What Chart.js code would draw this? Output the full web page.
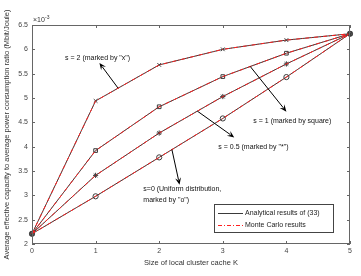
<!DOCTYPE html>
<html>
<head>
<meta charset="utf-8">
<script src="https://cdn.jsdelivr.net/npm/chart.js@4.4.1/dist/chart.umd.min.js"></script>
<style>
  html, body { margin: 0; padding: 0; background: #fff; }
  #wrap { width: 361px; height: 276px; }
</style>
</head>
<body>
<div id="wrap"><canvas id="cacheChart" width="361" height="276"></canvas></div>
<script>
// Данные графика (×10^-3 Mbit/Joule)
const cacheSize = [0, 1, 2, 3, 4, 5];
const xTicks = [0, 1, 2, 3, 4, 5];
const yTicks = [2, 2.5, 3, 3.5, 4, 4.5, 5, 5.5, 6, 6.5];

const s2 = [2.21, 4.94, 5.68, 6.00, 6.19, 6.32];
const s1 = [2.21, 3.92, 4.82, 5.44, 5.92, 6.32];
const s05 = [2.21, 3.41, 4.28, 5.03, 5.70, 6.32];
const s0 = [2.21, 2.98, 3.78, 4.58, 5.43, 6.32];

const FONT = '"Liberation Sans", Arial, sans-serif';
const GRAY = '#3a3a3a';
const RED = '#ff2020';

// Подписи со стрелками (в координатах данных)
const notes = [
    { lines: ['s = 2 (marked by "x")'], tx: 0.52, ty: 5.83, from: [1.355, 5.20], to: [1.06, 5.72] },
    { lines: ['s = 1 (marked by square)'], tx: 3.48, ty: 4.53, from: [3.43, 5.65], to: [4.0, 4.72] },
    { lines: ['s = 0.5 (marked by "*")'], tx: 2.93, ty: 4.00, from: [2.60, 4.73], to: [3.18, 4.19] },
    { lines: ['s=0 (Uniform distribution,', 'marked by "o")'], tx: 1.75, ty: 3.12, from: [2.20, 3.94], to: [2.32, 3.22] }
];

function toPoints(arr) {
    return cacheSize.map((k, i) => ({ x: k, y: arr[i] }));
}

function analytical(arr, style) {
    return {
        data: toPoints(arr),
        borderColor: GRAY,
        borderWidth: 1,
        pointStyle: style,
        pointRadius: 2.6,
        pointBorderColor: GRAY,
        pointBackgroundColor: 'rgba(0,0,0,0)',
        pointBorderWidth: 1,
        clip: false,
        order: 2
    };
}

function monteCarlo(arr) {
    return {
        data: toPoints(arr),
        borderColor: RED,
        borderWidth: 1,
        borderDash: [4, 2, 1, 2],
        pointRadius: 0,
        clip: false,
        order: 1
    };
}

function drawArrow(c, x1, y1, x2, y2) {
    const ang = Math.atan2(y2 - y1, x2 - x1);
    const len = 7, w = 3;
    c.strokeStyle = '#000';
    c.fillStyle = '#000';
    c.lineWidth = 1;
    c.beginPath();
    c.moveTo(x1, y1);
    c.lineTo(x2 - Math.cos(ang) * len * 0.7, y2 - Math.sin(ang) * len * 0.7);
    c.stroke();
    c.beginPath();
    c.moveTo(x2, y2);
    c.lineTo(x2 - Math.cos(ang) * len + Math.sin(ang) * w, y2 - Math.sin(ang) * len - Math.cos(ang) * w);
    c.lineTo(x2 - Math.cos(ang) * len * 0.6, y2 - Math.sin(ang) * len * 0.6);
    c.lineTo(x2 - Math.cos(ang) * len - Math.sin(ang) * w, y2 - Math.sin(ang) * len + Math.cos(ang) * w);
    c.closePath();
    c.fill();
}

const matlabLook = {
    id: 'matlabLook',
    afterDraw(chart) {
        const c = chart.ctx;
        const a = chart.chartArea;
        const xs = chart.scales.x, ys = chart.scales.y;
        c.save();

        // рамка и внутренние засечки
        c.strokeStyle = '#666';
        c.lineWidth = 1;
        c.strokeRect(a.left + 0.5, a.top + 0.5, a.right - a.left - 1, a.bottom - a.top - 1);
        c.beginPath();
        xTicks.forEach(v => {
            const px = Math.round(xs.getPixelForValue(v)) + 0.5;
            c.moveTo(px, a.bottom); c.lineTo(px, a.bottom - 3);
            c.moveTo(px, a.top); c.lineTo(px, a.top + 3);
        });
        yTicks.forEach(v => {
            const py = Math.round(ys.getPixelForValue(v)) + 0.5;
            c.moveTo(a.left, py); c.lineTo(a.left + 3, py);
            c.moveTo(a.right, py); c.lineTo(a.right - 3, py);
        });
        c.stroke();

        // множитель ×10^-3
        c.fillStyle = '#333';
        c.font = '7px ' + FONT;
        c.textBaseline = 'alphabetic';
        c.textAlign = 'left';
        c.fillText('\u00d710', a.left + 1, a.top - 3);
        c.font = '5px ' + FONT;
        c.fillText('-3', a.left + 13, a.top - 6);

        // подписи и стрелки
        c.font = '7px ' + FONT;
        c.textBaseline = 'middle';
        notes.forEach(n => {
            c.fillStyle = '#111';
            const tx = xs.getPixelForValue(n.tx);
            const ty = ys.getPixelForValue(n.ty);
            n.lines.forEach((t, i) => c.fillText(t, tx, ty + i * 11));
            drawArrow(c,
                xs.getPixelForValue(n.from[0]), ys.getPixelForValue(n.from[1]),
                xs.getPixelForValue(n.to[0]), ys.getPixelForValue(n.to[1]));
        });

        // легенда
        const lx = a.right - 136, ly = a.bottom - 40, lw = 119, lh = 28;
        c.fillStyle = '#fff';
        c.fillRect(lx, ly, lw, lh);
        c.strokeStyle = '#444';
        c.strokeRect(lx + 0.5, ly + 0.5, lw, lh);
        c.lineWidth = 1;
        c.strokeStyle = GRAY;
        c.beginPath();
        c.moveTo(lx + 4, ly + 9.5); c.lineTo(lx + 29, ly + 9.5);
        c.stroke();
        c.strokeStyle = RED;
        c.setLineDash([4, 2, 1, 2]);
        c.beginPath();
        c.moveTo(lx + 4, ly + 21.5); c.lineTo(lx + 29, ly + 21.5);
        c.stroke();
        c.setLineDash([]);
        c.fillStyle = '#222';
        c.fillText('Analytical results of (33)', lx + 31, ly + 9.5);
        c.fillText('Monte Carlo results', lx + 31, ly + 21.5);
        c.restore();
    }
};

const ctx = document.getElementById('cacheChart').getContext('2d');
const cacheChart = new Chart(ctx, {
    type: 'line',
    data: {
        datasets: [
            analytical(s2, 'crossRot'),
            analytical(s1, 'rect'),
            analytical(s05, 'star'),
            analytical(s0, 'circle'),
            monteCarlo(s2),
            monteCarlo(s1),
            monteCarlo(s05),
            monteCarlo(s0)
        ]
    },
    options: {
        responsive: false,
        animation: false,
        layout: { padding: { left: 2, right: 11, top: 25, bottom: 9 } },
        plugins: { legend: { display: false }, tooltip: { enabled: false } },
        scales: {
            x: {
                type: 'linear',
                min: 0,
                max: 5,
                afterBuildTicks: s => { s.ticks = xTicks.map(v => ({ value: v })); },
                afterFit: s => { s.height = 23; },
                grid: { display: false, drawTicks: false },
                border: { display: false },
                ticks: { color: '#444', font: { family: FONT, size: 7 }, padding: 3, maxRotation: 0, callback: v => String(v) },
                title: {
                    display: true,
                    text: 'Size of local cluster cache K',
                    color: '#333',
                    font: { family: FONT, size: 7.5 },
                    padding: { top: 2, bottom: 0 }
                }
            },
            y: {
                min: 2,
                max: 6.5,
                afterBuildTicks: s => { s.ticks = yTicks.map(v => ({ value: v })); },
                afterFit: s => { s.width = 30; },
                grid: { display: false, drawTicks: false },
                border: { display: false },
                ticks: { color: '#444', font: { family: FONT, size: 7 }, padding: 4, callback: v => String(v) },
                title: {
                    display: true,
                    text: 'Average effective capacity to average power consumption ratio (Mbit/Joule)',
                    color: '#333',
                    font: { family: FONT, size: 7.5 },
                    padding: { top: 0, bottom: 0 }
                }
            }
        }
    },
    plugins: [matlabLook]
});
</script>
</body>
</html>
